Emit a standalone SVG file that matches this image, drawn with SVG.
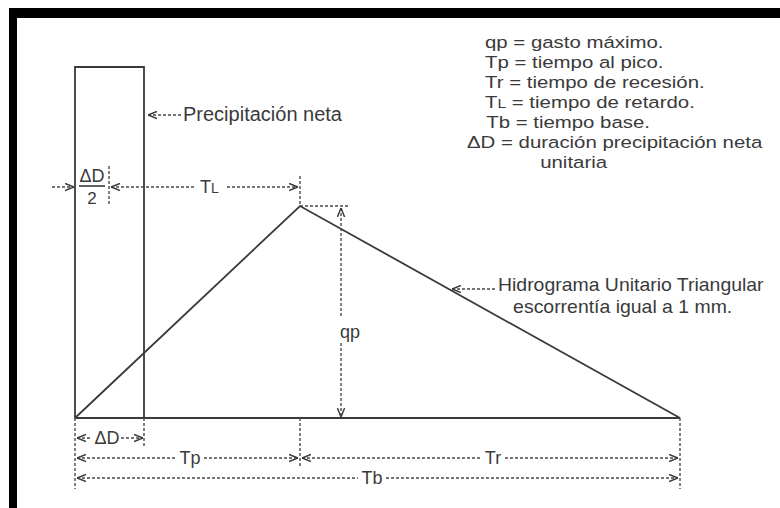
<svg xmlns="http://www.w3.org/2000/svg" width="780" height="508" viewBox="0 0 780 508">
  <defs>
    <marker id="ah" viewBox="0 0 10 10" refX="10" refY="5" markerWidth="9" markerHeight="9" markerUnits="userSpaceOnUse" orient="auto-start-reverse">
      <path d="M0,1 L10,5 L0,9" fill="none" stroke="#3a3a3a" stroke-width="1.6"/>
    </marker>
  </defs>
  <style>
    .txt { font-family: "Liberation Sans", Arial, sans-serif; fill: #3a3a3a; }
    .leg { font-size: 17px; }
    .lab { font-size: 18px; }
    .dim { font-size: 18px; }
    .solid { fill: none; stroke: #3a3a3a; stroke-width: 1.8; }
    .dash { fill: none; stroke: #4a4a4a; stroke-width: 1.4; stroke-dasharray: 3 2; }
    .arr { marker-end: url(#ah); }
    .arrs { marker-start: url(#ah); }
  </style>
  <rect width="780" height="508" fill="#ffffff"/>

  <g id="frame">
    <rect x="9" y="8" width="771" height="10" fill="#000"/>
    <rect x="9" y="8" width="8" height="500" fill="#000"/>
  </g>

  <g id="precipitation-block">
    <path class="solid" d="M75,418 V67 H144 V418"/>
  </g>

  <g id="hydrograph">
    <path class="solid" d="M75,418 L300,206 L680,418"/>
    <path class="solid" d="M75,418 H680"/>
  </g>

  <g id="connectors">
    <path class="dash" d="M300,206 H349"/>
    <path class="dash" d="M300,176 V206"/>
    <path class="dash arrs" d="M341,208 V318"/>
    <path class="dash arr" d="M341,343 V417"/>
    <path class="dash arr" d="M52,187 H74"/>
    <path class="dash" d="M109,166 V206"/>
    <path class="dash arrs" d="M111,187 H194"/>
    <path class="dash arr" d="M227,187 H298"/>
    <path class="solid" d="M79,186 H105" style="stroke-width:1.6"/>
    <path class="dash" d="M75,418 V489"/>
    <path class="dash" d="M144,418 V446"/>
    <path class="dash" d="M300,418 V468"/>
    <path class="dash" d="M680,418 V489"/>
    <path class="dash arrs" d="M77,438 H92"/>
    <path class="dash arr" d="M121,438 H143"/>
    <path class="dash arrs" d="M77,458 H177"/>
    <path class="dash arr" d="M204,458 H298"/>
    <path class="dash arrs" d="M302,458 H482"/>
    <path class="dash arr" d="M505,458 H678"/>
    <path class="dash arrs" d="M77,478 H358"/>
    <path class="dash arr" d="M386,478 H678"/>
    <path class="dash arrs" d="M148,115 H181"/>
    <path class="dash arrs" d="M452,289 H496"/>
  </g>

  <g id="dimension-labels" class="txt dim">
    <text x="92" y="182" text-anchor="middle">ΔD</text>
    <text x="92" y="204" text-anchor="middle" font-size="17">2</text>
    <text x="200" y="193">T<tspan font-size="14">L</tspan></text>
    <text x="340" y="338">qp</text>
    <text x="107" y="444" text-anchor="middle">ΔD</text>
    <text x="190" y="464" text-anchor="middle">Tp</text>
    <text x="493" y="464" text-anchor="middle">Tr</text>
    <text x="372" y="484" text-anchor="middle">Tb</text>
  </g>

  <g id="pointer-labels" class="txt lab">
    <text x="183" y="121" font-size="20">Precipitación neta</text>
    <g transform="translate(498,0) scale(1.08,1)">
      <text x="0" y="291">Hidrograma Unitario Triangular</text>
      <text x="14" y="313">escorrentía igual a 1 mm.</text>
    </g>
  </g>

  <g id="legend" class="txt leg" transform="translate(485,0) scale(1.2,1)">
    <text x="0" y="48">qp = gasto máximo.</text>
    <text x="0" y="68">Tp = tiempo al pico.</text>
    <text x="0" y="88">Tr = tiempo de recesión.</text>
    <text x="0" y="108">T<tspan font-size="13">L</tspan> = tiempo de retardo.</text>
    <text x="1" y="128">Tb = tiempo base.</text>
    <text x="-15" y="148">ΔD = duración precipitación neta</text>
    <text x="46" y="168">unitaria</text>
  </g>
</svg>
